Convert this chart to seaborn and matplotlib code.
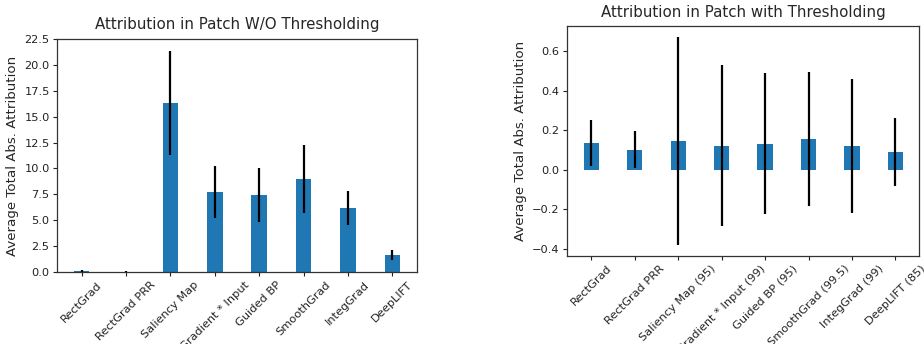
import numpy as np
import pandas as pd
import matplotlib
matplotlib.use("Agg")
import matplotlib.pyplot as plt
import seaborn as sns

# Methods and their mean total absolute attribution inside the patch
methods_raw = ["RectGrad", "RectGrad PRR", "Saliency Map", "Gradient * Input",
               "Guided BP", "SmoothGrad", "IntegGrad", "DeepLIFT"]
means_raw = [0.10, 0.05, 16.3, 7.75, 7.45, 8.98, 6.15, 1.65]
errs_raw = [0.10, 0.05, 5.0, 2.5, 2.6, 3.3, 1.65, 0.53]

methods_thr = ["RectGrad", "RectGrad PRR", "Saliency Map (95)", "Gradient * Input (99)",
               "Guided BP (95)", "SmoothGrad (99.5)", "IntegGrad (99)", "DeepLIFT (85)"]
means_thr = [0.135, 0.102, 0.146, 0.123, 0.133, 0.155, 0.120, 0.090]
errs_thr = [0.116, 0.094, 0.526, 0.406, 0.358, 0.338, 0.340, 0.173]

sns.set_style("ticks")
plt.rcParams["font.family"] = ["DejaVu Sans"]
plt.rcParams["axes.edgecolor"] = "#333333"
plt.rcParams["axes.linewidth"] = 0.9

BLUE = "#1f77b4"

fig = plt.figure(figsize=(9.24, 3.44), dpi=100)
ax1 = fig.add_axes([0.062, 0.209, 0.389, 0.678])
ax2 = fig.add_axes([0.614, 0.257, 0.381, 0.666])


def draw(ax, names, means, errs, title):
    df = pd.DataFrame({"method": names, "value": means})
    sns.barplot(data=df, x="method", y="value", color=BLUE, saturation=1,
                width=0.35, errorbar=None, ax=ax, linewidth=0)
    ax.errorbar(np.arange(len(names)), means, yerr=errs, fmt="none",
                ecolor="black", elinewidth=1.6, capsize=0)
    ax.set_xlim(-0.55, len(names) - 0.45)
    ax.set_xlabel("")
    ax.set_ylabel("Average Total Abs. Attribution", fontsize=9.6, labelpad=4)
    ax.set_title(title, fontsize=10.8, pad=7)
    ax.tick_params(axis="both", labelsize=8.2, length=3, pad=2.5, width=0.8,
                   colors="#222222")
    for lbl in ax.get_xticklabels():
        lbl.set_rotation(45)
        lbl.set_ha("center")
    for s in ax.spines.values():
        s.set_visible(True)


draw(ax1, methods_raw, means_raw, errs_raw, "Attribution in Patch W/O Thresholding")
ax1.set_ylim(0, 22.5)
ax1.set_yticks(np.arange(0, 22.6, 2.5))

draw(ax2, methods_thr, means_thr, errs_thr, "Attribution in Patch with Thresholding")
ax2.set_ylim(-0.433, 0.725)
ax2.set_yticks([-0.4, -0.2, 0.0, 0.2, 0.4, 0.6])

fig.savefig("out.png", dpi=100)
